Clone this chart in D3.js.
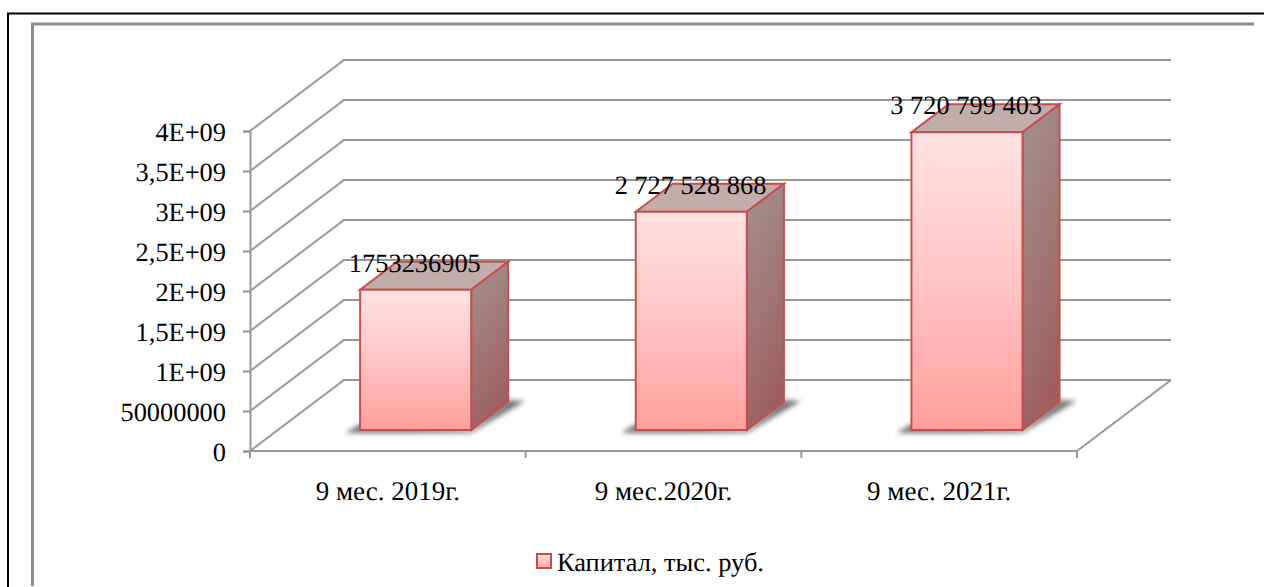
<!DOCTYPE html>
<html>
<head>
<meta charset="utf-8">
<script src="https://cdn.jsdelivr.net/npm/d3@7"></script>
<style>
  html, body { margin: 0; padding: 0; background: #fff; }
  svg { display: block; font-family: "Liberation Serif", serif; text-rendering: geometricPrecision; }
</style>
</head>
<body>
<div id="chart"></div>
<script>
// -------- DATA --------
const categories = ["9 мес. 2019г.", "9 мес.2020г.", "9 мес. 2021г."];
const values = [1753236905, 2727528868, 3720799403];
const valueLabels = ["1753236905", "2 727 528 868", "3 720 799 403"];
const tickValues = [0, 5e8, 1e9, 1.5e9, 2e9, 2.5e9, 3e9, 3.5e9, 4e9];
const tickLabels = ["0", "50000000", "1E+09", "1,5E+09", "2E+09", "2,5E+09", "3E+09", "3,5E+09", "4E+09"];
const seriesName = "Капитал, тыс. руб.";

// -------- LAYOUT --------
const width = 1264, height = 587;
const fontSize = 26.4;
const axisColor = "#999797";
const barStroke = "#c4504d";

const x = d3.scaleBand().domain(categories).range([250, 1077]).paddingInner(0.597).paddingOuter(0.2985);
const y = d3.scaleLinear().domain([0, 4e9]).range([451, 131]);
// oblique depth of the 3d box: 0 = front of floor, 1 = back wall
const depthX = d3.scaleLinear().domain([0, 1]).range([0, 94]);
const depthY = d3.scaleLinear().domain([0, 1]).range([0, -71]);
const barFront = 0.296, barBack = 0.69;

const pt = (px, value, depth) => [px + depthX(depth), y(value) + depthY(depth)];
const poly = pts => pts.map(p => p.join(",")).join(" ");

const svg = d3.select("#chart").append("svg")
  .attr("width", width).attr("height", height);

// -------- GRADIENTS --------
const defs = svg.append("defs");
const addGradient = (id, x2, y2, stops) => {
  const g = defs.append("linearGradient").attr("id", id)
    .attr("x1", 0).attr("y1", 0).attr("x2", x2).attr("y2", y2);
  stops.forEach(s => g.append("stop").attr("offset", s[0]).attr("stop-color", s[1]));
};
addGradient("frontFill", 0, 1, [[0, "#ffe2e2"], [0.5, "#ffc4c4"], [1, "#ff9f9d"]]);
addGradient("sideFill", 0.3, 1, [[0, "#a39292"], [1, "#9e605e"]]);
addGradient("legendFill", 0, 1, [[0, "#ffe2e2"], [1, "#ffa3a3"]]);
defs.append("filter").attr("id", "blur")
  .attr("x", "-20%").attr("y", "-50%").attr("width", "140%").attr("height", "200%")
  .append("feGaussianBlur").attr("stdDeviation", 2.4);

// -------- FRAMES --------
svg.append("path").attr("d", d3.line()([[8, 587], [8, 13.5], [1264, 13.5]]))
  .attr("fill", "none").attr("stroke", "#000").attr("stroke-width", 2);
svg.append("path").attr("d", d3.line()([[32.5, 586], [32.5, 24], [1254, 24]]))
  .attr("fill", "none").attr("stroke", "#8c8c8c").attr("stroke-width", 3);

// -------- WALLS / GRID --------
const wallG = svg.append("g").attr("fill", "none").attr("stroke", axisColor).attr("stroke-width", 2);
wallG.selectAll("polyline.grid")
  .data(tickValues)
  .join("polyline")
    .attr("class", "grid")
    .attr("points", d => poly([pt(x.range()[0], d, 0), pt(x.range()[0], d, 1), pt(x.range()[1], d, 1)]));
// floor outline on the right
wallG.append("polyline")
  .attr("points", poly([pt(x.range()[0], 0, 0), pt(x.range()[1], 0, 0), pt(x.range()[1], 0, 1)]));

// -------- AXES --------
const yAxis = d3.axisLeft(y).tickValues(tickValues).tickFormat((d, i) => tickLabels[i]).tickSize(7).tickPadding(17);
const yAxisG = svg.append("g").attr("transform", `translate(${x.range()[0]},0)`).call(yAxis);
const xAxis = d3.axisBottom(x).tickSize(0).tickPadding(30);
const xAxisG = svg.append("g").attr("transform", `translate(0,${y(0)})`).call(xAxis);
xAxisG.select(".domain").remove();

// x ticks sit on the band edges, not the centres
const xEdges = categories.map(c => x(c) - x.step() * x.paddingOuter()).concat(x.range()[1]);
xAxisG.selectAll("line.edge")
  .data(xEdges)
  .join("line")
    .attr("class", "edge")
    .attr("x1", d => d).attr("x2", d => d)
    .attr("y1", 0).attr("y2", 7)
    .attr("stroke", axisColor).attr("stroke-width", 2);

[yAxisG, xAxisG].forEach(g => {
  g.selectAll("text").attr("font-family", "Liberation Serif").attr("font-size", fontSize).attr("fill", "#000");
});
xAxisG.selectAll("text").attr("font-size", 27);
yAxisG.selectAll("text").attr("dy", "0.35em");
yAxisG.selectAll(".domain, .tick line").attr("stroke", axisColor).attr("stroke-width", 2);

// -------- BARS --------
const bars = svg.append("g").selectAll("g.bar")
  .data(values.map((v, i) => ({ category: categories[i], value: v, label: valueLabels[i] })))
  .join("g")
    .attr("class", "bar");

const left = d => x(d.category);
const right = d => x(d.category) + x.bandwidth();

// soft floor shadow
bars.append("polygon")
  .attr("points", d => {
    const a = pt(left(d), 0, barFront), b = pt(right(d), 0, barFront), c = pt(right(d), 0, barBack);
    return poly([[a[0] - 15, a[1] + 3], [b[0], b[1] + 3], [c[0] + 17, c[1] - 1], [c[0], c[1] - 2], [b[0], b[1]], [a[0], a[1] - 6]]);
  })
  .attr("fill", "#777")
  .attr("filter", "url(#blur)");

bars.append("polygon")
  .attr("points", d => poly([pt(left(d), d.value, barFront), pt(right(d), d.value, barFront), pt(right(d), d.value, barBack), pt(left(d), d.value, barBack)]))
  .attr("fill", "#c2adad").attr("stroke", barStroke).attr("stroke-width", 2);

bars.append("polygon")
  .attr("points", d => poly([pt(right(d), 0, barFront), pt(right(d), d.value, barFront), pt(right(d), d.value, barBack), pt(right(d), 0, barBack)]))
  .attr("fill", "url(#sideFill)").attr("stroke", barStroke).attr("stroke-width", 2);

bars.append("polygon")
  .attr("points", d => poly([pt(left(d), 0, barFront), pt(right(d), 0, barFront), pt(right(d), d.value, barFront), pt(left(d), d.value, barFront)]))
  .attr("fill", "url(#frontFill)").attr("stroke", barStroke).attr("stroke-width", 2);

bars.append("text")
  .attr("x", d => left(d) + x.bandwidth() / 2 + 27)
  .attr("y", d => y(d.value) + depthY(barBack) + 10)
  .attr("text-anchor", "middle")
  .attr("font-size", fontSize)
  .text(d => d.label);

// -------- LEGEND --------
const legend = svg.append("g").attr("transform", "translate(537,554)");
legend.append("rect")
  .attr("width", 14).attr("height", 14)
  .attr("fill", "url(#legendFill)").attr("stroke", barStroke).attr("stroke-width", 2);
legend.append("text")
  .attr("x", 20).attr("y", 17)
  .attr("font-size", fontSize)
  .text(seriesName);
</script>
</body>
</html>
